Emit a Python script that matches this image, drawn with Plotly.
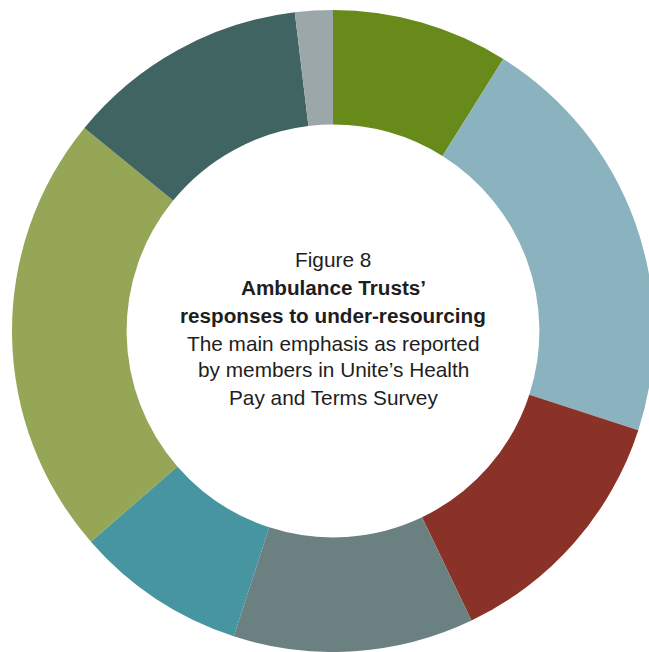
import plotly.graph_objects as go

# Share of members reporting each main emphasis (percent), clockwise from 12 o'clock
labels = ["Response 1", "Response 2", "Response 3", "Response 4",
          "Response 5", "Response 6", "Response 7", "Response 8"]
values = [8.9, 21.1, 12.9, 12.1, 8.6, 22.3, 12.2, 1.9]
colors = ["#678a1a", "#8ab3bf", "#8a3128", "#6b8080",
          "#4795a0", "#95a656", "#3f6462", "#9ba7a9"]

# Centre caption, one entry per line: (text, bold, y position in px from top)
caption_lines = [
    ("Figure 8", False, 259),
    ("Ambulance Trusts’", True, 287),
    ("responses to under-resourcing", True, 315),
    ("The main emphasis as reported", False, 343),
    ("by members in Unite’s Health", False, 370),
    ("Pay and Terms Survey", False, 397),
]

# Ring centred at (333, 331) with outer radius 321 px
W, H = 654, 652
ML, MT = 12, 10
PLOT_W, PLOT_H = W - ML, H - MT

fig = go.Figure(go.Pie(
    labels=labels,
    values=values,
    marker=dict(colors=colors, line=dict(width=0)),
    hole=0.643,
    sort=False,
    direction="clockwise",
    rotation=0,
    textinfo="none",
    hoverinfo="label+percent",
    showlegend=False,
    domain=dict(x=[0, 1], y=[0, 1]),
))

annotations = []
for text, bold, ypx in caption_lines:
    annotations.append(dict(
        text=f"<b>{text}</b>" if bold else text,
        x=(333 - ML) / PLOT_W, y=1 - (ypx - MT) / PLOT_H,
        xref="paper", yref="paper",
        xanchor="center", yanchor="middle",
        showarrow=False,
        font=dict(family="Liberation Sans, Arial, sans-serif",
                  size=20.7 if bold else 20.8, color="#1e1e1e"),
    ))

fig.update_layout(
    width=W, height=H,
    margin=dict(l=ML, t=MT, r=0, b=0),
    paper_bgcolor="white",
    plot_bgcolor="white",
    annotations=annotations,
)

fig.write_html(
    "out.html",
    post_script="document.documentElement.style.overflow='hidden';"
                "document.body.style.overflow='hidden';"
                "document.body.style.margin='0';",
)
